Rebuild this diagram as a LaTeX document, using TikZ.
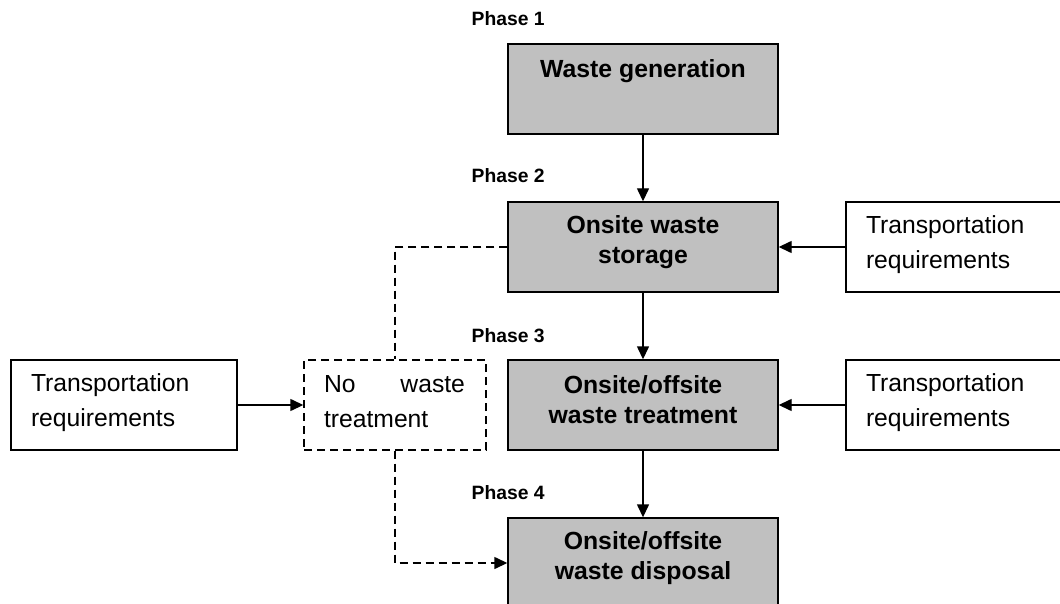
\documentclass[tikz,border=0pt]{standalone}
\usepackage{fontspec}
\setmainfont{Liberation Sans}
\usetikzlibrary{arrows.meta}
\definecolor{boxgray}{RGB}{192,192,192}
\begin{document}
\begin{tikzpicture}[x=1pt,y=-1pt,>={Triangle[length=13pt,width=12pt]},line width=1.4pt,
	phasebox/.style={draw,fill=boxgray,minimum width=270pt,minimum height=90pt,inner sep=0pt},
	reqbox/.style={draw,minimum width=226pt,minimum height=90pt,inner sep=0pt},
	dashbox/.style={draw,dash pattern=on 8pt off 5pt,minimum width=182pt,minimum height=90pt,inner sep=0pt},
	dashline/.style={dash pattern=on 8pt off 5pt},
	boldtxt/.style={font=\fontsize{24.8}{30}\selectfont\bfseries,align=center,inner sep=0pt,anchor=base},
	plaintxt/.style={font=\fontsize{24.7}{35}\selectfont,align=left,inner sep=0pt,anchor=base west},
	phaselbl/.style={font=\fontsize{19.3}{23}\selectfont\bfseries,inner sep=0pt,anchor=base west}]
				\clip (0,0) rectangle (1060,604);
				\node[phasebox] (gen) at (643,89) {};
				\node[phasebox] (store) at (643,247) {};
				\node[phasebox] (treat) at (643,405) {};
				\node[phasebox] (disp) at (643,563) {};
				\node[reqbox] (reqstore) at (959,247) {};
				\node[reqbox] (reqtreat) at (959,405) {};
				\node[reqbox] (reqleft) at (124,405) {};
				\node[dashbox] (notreat) at (395,405) {};
				\node[boldtxt] (gentxt) at ([yshift=-34pt]gen.north) {Waste generation};
				\node[boldtxt] (storetxt) at ([yshift=-62pt]store.north) {Onsite waste\\storage};
				\node[boldtxt] (treattxt) at ([yshift=-64pt]treat.north) {Onsite/offsite\\waste treatment};
				\node[boldtxt] (disptxt) at ([yshift=-62pt]disp.north) {Onsite/offsite\\waste disposal};
				\node[plaintxt] (reqstoretxt) at ([xshift=20pt,yshift=-67pt]reqstore.north west) {Transportation\\requirements};
				\node[plaintxt] (reqtreattxt) at ([xshift=20pt,yshift=-67pt]reqtreat.north west) {Transportation\\requirements};
				\node[plaintxt] (reqlefttxt) at ([xshift=20pt,yshift=-67pt]reqleft.north west) {Transportation\\requirements};
				\node[plaintxt,text width=141pt] (notreattxt) at ([xshift=20pt,yshift=-33pt]notreat.north west) {No\hfill waste\\treatment};
				\node[phaselbl] (ph1) at (471,26) {Phase 1};
				\node[phaselbl] (ph2) at (471,183) {Phase 2};
				\node[phaselbl] (ph3) at (471,342) {Phase 3};
				\node[phaselbl] (ph4) at (471,499) {Phase 4};
				\draw[->] (gen) -- (store);
				\draw[->] (store) -- (treat);
				\draw[->] (treat) -- (disp);
				\draw[->] (reqstore) -- (store);
				\draw[->] (reqtreat) -- (treat);
				\draw[->] (reqleft) -- (notreat);
				\draw[dashline] (store.west) -| (notreat.north);
				\draw[dashline,->] (notreat.south) |- (disp.west);
			\end{tikzpicture}
\end{document}
